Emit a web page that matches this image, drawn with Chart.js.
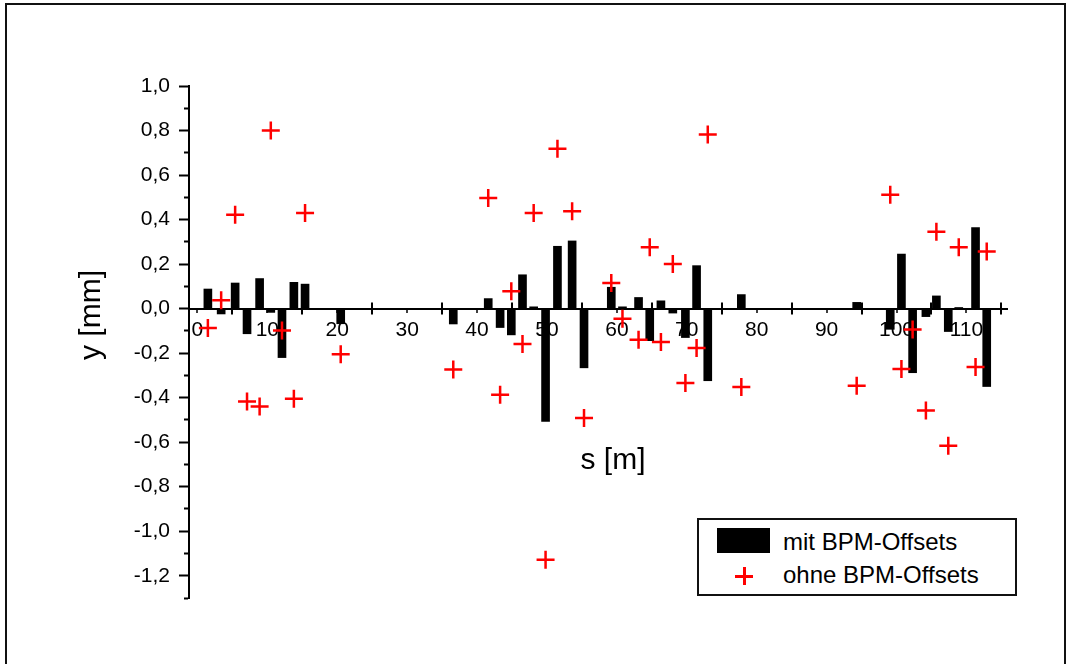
<!DOCTYPE html>
<html>
<head>
<meta charset="utf-8">
<script src="https://cdn.jsdelivr.net/npm/chart.js@4/dist/chart.umd.min.js"></script>
<style>
    body { margin: 0; background: #fff; overflow: hidden; }
    #wrap { position: relative; width: 1069px; height: 664px; }
    #frame {
        position: absolute; left: 5px; top: 3px; width: 1061px; height: 720px;
        border: 2px solid #111; box-sizing: border-box; pointer-events: none;
    }
    canvas { position: absolute; left: 0; top: 0; }
    #legend {
        position: absolute; left: 697px; top: 518px; width: 320px; height: 78px;
        border: 2px solid #111; box-sizing: border-box; background: #fff;
        font-family: "Liberation Sans", Arial, sans-serif; font-size: 24px; color: #000;
    }
    #legend .swatch { position: absolute; left: 18px; top: 8px; width: 53px; height: 25px; background: #000; }
    #legend .cross { position: absolute; left: 36px; top: 47px; width: 18px; height: 18px; }
    #legend .cross::before, #legend .cross::after { content: ''; position: absolute; background: #ff0000; }
    #legend .cross::before { left: 0; top: 8px; width: 18px; height: 2.5px; }
    #legend .cross::after { left: 8px; top: 0; width: 2.5px; height: 18px; }
    #legend .label { position: absolute; left: 84px; line-height: 28px; white-space: nowrap; }
</style>
</head>
<body>
<div id="wrap">
    <canvas id="orbitChart" width="1069" height="664"></canvas>
    <div id="frame"></div>
    <div id="legend">
        <div class="swatch"></div>
        <div class="label" style="top: 8px;">mit BPM-Offsets</div>
        <div class="cross"></div>
        <div class="label" style="top: 41px;">ohne BPM-Offsets</div>
    </div>
</div>
<script>
// BPM positions along the beamline [m]
const positions = [1.5, 3.4, 5.4, 7.1, 8.9, 10.5, 12.1, 13.8, 15.4, 20.5,
    36.6, 41.6, 43.3, 44.9, 46.5, 48.1, 49.8, 51.5, 53.6, 55.3,
    59.2, 60.8, 63.1, 64.7, 66.3, 68.0, 69.8, 71.4, 73.0, 77.8,
    94.3, 99.1, 100.7, 102.3, 104.2, 105.7, 107.4, 108.9, 111.3, 112.9];

// vertical orbit with BPM offsets applied [mm]
const mitOffsets = [0.088, -0.024, 0.115, -0.113, 0.135, -0.017, -0.22, 0.118, 0.11, -0.068,
    -0.069, 0.045, -0.085, -0.118, 0.152, 0.008, -0.507, 0.28, 0.304, -0.266,
    0.096, 0.008, 0.05, -0.144, 0.035, -0.02, -0.13, 0.193, -0.324, 0.063,
    0.028, -0.093, 0.245, -0.288, -0.036, 0.057, -0.103, 0.005, 0.364, -0.35];

// vertical orbit without BPM offsets [mm]
const ohneOffsets = [-0.087, 0.037, 0.422, -0.417, -0.44, 0.80, -0.098, -0.405, 0.43, -0.205,
    -0.274, 0.497, -0.387, 0.078, -0.159, 0.43, -1.128, 0.718, 0.437, -0.491,
    0.115, -0.046, -0.14, 0.276, -0.15, 0.2, -0.334, -0.177, 0.782, -0.352,
    -0.346, 0.512, -0.271, -0.094, -0.458, 0.345, -0.616, 0.276, -0.262, 0.256];

const xTitle = 's [m]';
const yTitle = 'y [mm]';

const fontFamily = '"Liberation Sans", Arial, sans-serif';
Chart.defaults.font.family = fontFamily;
Chart.defaults.color = '#000';

// axis titles sit away from the axes, so they are painted by hand
const axisTitles = {
    id: 'axisTitles',
    afterDraw(chart) {
        const ctx = chart.ctx;
        ctx.save();
        ctx.font = '30px ' + fontFamily;
        ctx.fillStyle = '#000';
        ctx.textAlign = 'center';
        ctx.textBaseline = 'middle';
        ctx.fillText(xTitle, 613, 461);
        ctx.translate(92, 315);
        ctx.rotate(-Math.PI / 2);
        ctx.fillText(yTitle, 0, 0);
        ctx.restore();
    }
};

const isTenth = (v, n) => Math.round(v * 10) % n === 0;

const barData = positions.map((s, i) => ({ x: s, y: mitOffsets[i] }));
const crossData = positions.map((s, i) => ({ x: s, y: ohneOffsets[i] }));

new Chart(document.getElementById('orbitChart'), {
    type: 'bar',
    data: {
        datasets: [
            {
                label: 'mit BPM-Offsets',
                data: barData,
                backgroundColor: '#000',
                borderWidth: 0,
                barThickness: 8,
                order: 1
            },
            {
                type: 'scatter',
                label: 'ohne BPM-Offsets',
                data: crossData,
                pointStyle: 'cross',
                pointRadius: 9,
                pointBorderWidth: 2.5,
                borderColor: '#ff0000',
                backgroundColor: '#ff0000',
                order: 0
            }
        ]
    },
    options: {
        responsive: false,
        animation: false,
        layout: { padding: { left: 9, top: 86, right: 62, bottom: 66 } },
        plugins: {
            legend: { display: false },
            tooltip: { enabled: false }
        },
        scales: {
            x: {
                type: 'linear',
                offset: false,
                position: { y: 0 },
                min: -1.2,
                max: 115.8,
                afterFit: (scale) => { scale.height = 0; },
                border: {
                    display: true, color: '#000', width: 2,
                    // only a short piece of each grid line around y = 0 is kept,
                    // giving the crossing tick marks at 5, 15, 25, ...
                    dash: (ctx) => {
                        if (!ctx.tick) return [];
                        const c = ctx.chart;
                        const z = c.scales.y.getPixelForValue(0) - c.chartArea.top;
                        return [0, z - 6, 12, 4000];
                    }
                },
                grid: {
                    offset: false,
                    drawOnChartArea: true,
                    lineWidth: 2,
                    color: (ctx) => (ctx.tick && ctx.tick.value % 10 === 5) ? '#000' : 'rgba(0,0,0,0)',
                    drawTicks: true,
                    tickLength: 3,
                    tickWidth: 1.5,
                    tickColor: (ctx) => (ctx.tick && ctx.tick.value % 10 === 0) ? '#000' : 'rgba(0,0,0,0)'
                },
                ticks: {
                    stepSize: 5,
                    includeBounds: false,
                    autoSkip: false,
                    maxRotation: 0,
                    padding: 6,
                    font: { size: 21 },
                    callback: (v) => v % 10 === 0 ? String(v) : ''
                }
            },
            y: {
                type: 'linear',
                position: 'left',
                min: -1.3,
                max: 1.0,
                afterFit: (scale) => { scale.width = 180; },
                border: { display: true, color: '#000', width: 2 },
                grid: {
                    drawOnChartArea: false,
                    drawTicks: true,
                    tickLength: 10,
                    tickWidth: 2,
                    tickColor: '#000',
                    // odd tenths get a half-length tick next to the axis
                    tickBorderDash: (ctx) => (ctx.tick && !isTenth(ctx.tick.value, 2)) ? [0, 5, 5, 10] : []
                },
                ticks: {
                    stepSize: 0.1,
                    autoSkip: false,
                    padding: 9,
                    font: { size: 21 },
                    callback: (v) => isTenth(v, 2) ? (Math.round(v * 10) / 10).toFixed(1).replace('.', ',') : ''
                }
            }
        }
    },
    plugins: [axisTitles]
});
</script>
</body>
</html>
